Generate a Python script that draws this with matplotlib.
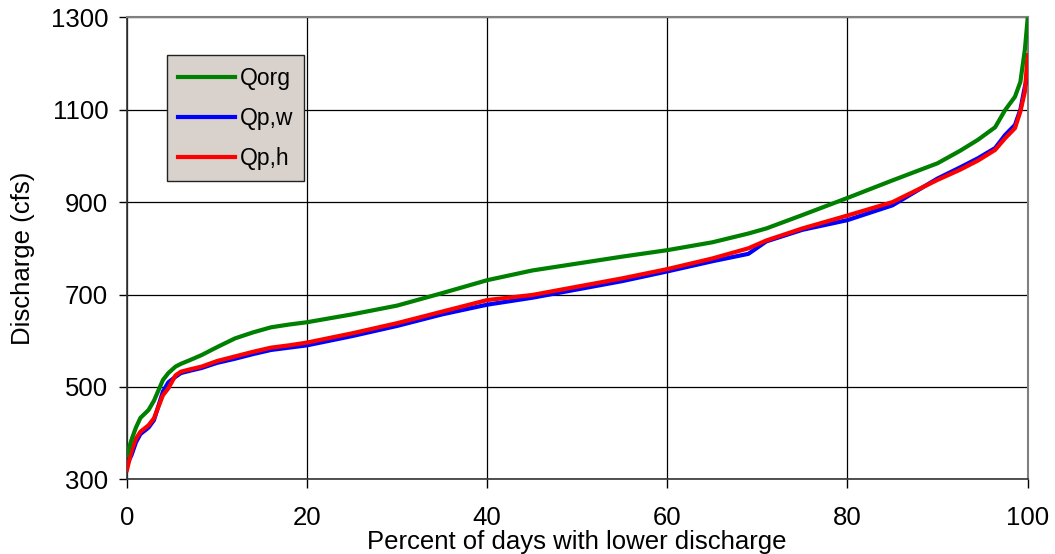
import matplotlib
matplotlib.use("Agg")
import matplotlib.pyplot as plt

# percent of days with lower discharge
pct = [0, 0.5, 1, 1.5, 2.4, 3, 4, 4.6, 5.4, 6, 7, 8.3, 10, 12, 14, 16, 18,
       20, 25, 30, 35, 40, 45, 50, 55, 60, 65, 69, 71, 75, 80, 85, 90,
       92.5, 94.5, 96.4, 97.5, 98.6, 99.2, 99.7, 100]

q_org = [353, 385, 412, 433, 450, 470, 515, 530, 544, 550, 558, 569, 586,
         605, 618, 629, 635, 640, 657, 676, 703, 731, 752, 767, 782, 796,
         813, 832, 843, 872, 909, 947, 984, 1011, 1035, 1062, 1099, 1128,
         1160, 1230, 1295]

q_pw = [332, 352, 380, 398, 412, 428, 490, 510, 522, 530, 535, 541, 552,
        561, 571, 580, 585, 590, 610, 632, 657, 678, 693, 711, 729, 750,
        772, 788, 815, 840, 861, 893, 951, 975, 995, 1017, 1045, 1067,
        1100, 1150, 1172]

q_ph = [320, 360, 388, 403, 417, 432, 482, 497, 525, 533, 538, 544, 556,
        566, 576, 585, 590, 596, 616, 638, 663, 688, 699, 717, 735, 755,
        778, 800, 817, 843, 871, 900, 948, 970, 990, 1013, 1038, 1060,
        1096, 1139, 1218]

x_ticks = [0, 20, 40, 60, 80, 100]
y_ticks = [300, 500, 700, 900, 1100, 1300]

plt.rcParams["font.family"] = ["Liberation Sans", "DejaVu Sans"]
FS = 18.5

fig = plt.figure(figsize=(10.55, 5.54), dpi=100)
ax = fig.add_axes([0.1203, 0.1348, 0.8537, 0.834])

ax.plot(pct, q_org, color="#008000", lw=3.0, label="Qorg", zorder=5)
ax.plot(pct, q_pw, color="#0000ff", lw=3.0, label="Qp,w", zorder=3)
ax.plot(pct, q_ph, color="#ff0000", lw=3.0, label="Qp,h", zorder=4)

ax.set_xlim(0, 100)
ax.set_ylim(300, 1300)
ax.set_xticks(x_ticks)
ax.set_yticks(y_ticks)
ax.grid(True, color="black", lw=0.9)
ax.set_axisbelow(True)

for side in ["top", "right"]:
    ax.spines[side].set_color("#808080")
    ax.spines[side].set_linewidth(1.5)
for side in ["left", "bottom"]:
    ax.spines[side].set_color("#333333")
    ax.spines[side].set_linewidth(1.2)

ax.tick_params(axis="x", direction="out", length=6.5, width=1,
               labelsize=FS, pad=13)
ax.tick_params(axis="y", direction="out", length=6, width=1,
               labelsize=FS, pad=7.5)

ax.set_xlabel("Percent of days with lower discharge", fontsize=FS,
              labelpad=0)
ax.set_ylabel("Discharge (cfs)", fontsize=FS)
ax.yaxis.set_label_coords(-0.102, 0.479)

leg = ax.legend(loc="upper left", bbox_to_anchor=(0.0445, 0.918),
                fontsize=16.5, frameon=True, fancybox=False,
                facecolor="#d9d2cc", edgecolor="#222222", framealpha=1,
                handlelength=2.45, handletextpad=0.22, labelspacing=0.75,
                borderpad=0.5, borderaxespad=0)
leg.get_frame().set_linewidth(1.0)

fig.savefig("out.png", dpi=100)
